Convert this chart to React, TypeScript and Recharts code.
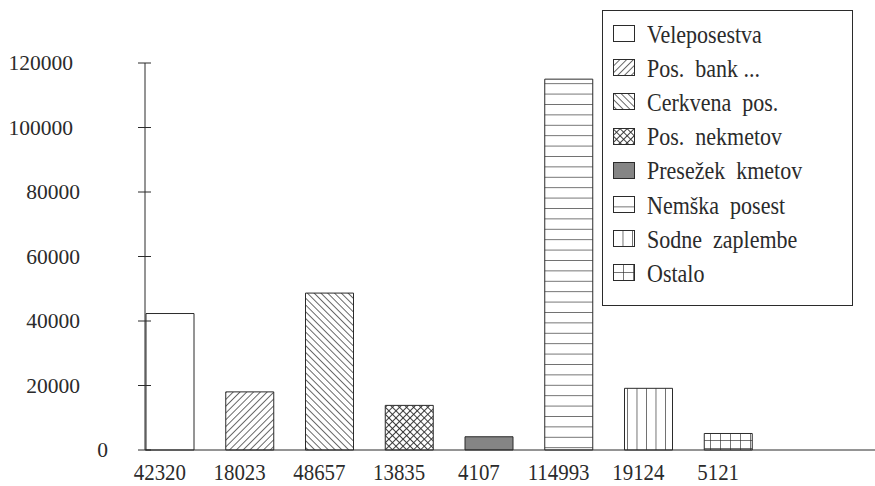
import React from 'react';
import { BarChart, Bar, Cell, XAxis, YAxis } from 'recharts';

const categories = [
  'Veleposestva',
  'Pos.  bank ...',
  'Cerkvena  pos.',
  'Pos.  nekmetov',
  'Presežek  kmetov',
  'Nemška  posest',
  'Sodne  zaplembe',
  'Ostalo',
];
const values = [42320, 18023, 48657, 13835, 4107, 114993, 19124, 5121];
const yTicks = [0, 20000, 40000, 60000, 80000, 100000, 120000];

const patternIds = ['p-blank', 'p-fwd', 'p-back', 'p-cross', 'p-grey', 'p-horiz', 'p-vert', 'p-grid'];

const data = categories.map((name, i) => ({ name, label: String(values[i]), value: values[i] }));

const INK = '#2b2b2b';
const FONT = "'Liberation Serif', 'Times New Roman', serif";

// hatch fills used by the bars and the legend swatches
const Patterns = () => (
  <defs>
    <pattern id="p-blank" width="10" height="10" patternUnits="userSpaceOnUse">
      <rect width="10" height="10" fill="#fff" />
    </pattern>
    <pattern id="p-fwd" width="4.8" height="4.8" patternUnits="userSpaceOnUse" patternTransform="rotate(45)">
      <rect width="4.8" height="4.8" fill="#fff" />
      <line x1="0" y1="0" x2="0" y2="4.8" stroke={INK} strokeWidth="1.4" />
    </pattern>
    <pattern id="p-back" width="4.8" height="4.8" patternUnits="userSpaceOnUse" patternTransform="rotate(-45)">
      <rect width="4.8" height="4.8" fill="#fff" />
      <line x1="0" y1="0" x2="0" y2="4.8" stroke={INK} strokeWidth="1.4" />
    </pattern>
    <pattern id="p-cross" width="5" height="5" patternUnits="userSpaceOnUse" patternTransform="rotate(45)">
      <rect width="5" height="5" fill="#fff" />
      <line x1="0" y1="0" x2="0" y2="5" stroke={INK} strokeWidth="1.8" />
      <line x1="0" y1="0" x2="5" y2="0" stroke={INK} strokeWidth="1.8" />
    </pattern>
    <pattern id="p-grey" width="4" height="4" patternUnits="userSpaceOnUse">
      <rect width="4" height="4" fill="#858585" />
    </pattern>
    <pattern id="p-horiz" width="10" height="10.4" patternUnits="userSpaceOnUse">
      <rect width="10" height="10.4" fill="#fff" />
      <line x1="0" y1="0" x2="10" y2="0" stroke={INK} strokeWidth="1.3" />
    </pattern>
    <pattern id="p-vert" width="9.5" height="10" patternUnits="userSpaceOnUse">
      <rect width="9.5" height="10" fill="#fff" />
      <line x1="0" y1="0" x2="0" y2="10" stroke={INK} strokeWidth="1.3" />
    </pattern>
    <pattern id="p-grid" width="10" height="8" patternUnits="userSpaceOnUse">
      <rect width="10" height="8" fill="#fff" />
      <line x1="0" y1="0" x2="0" y2="8" stroke={INK} strokeWidth="1.3" />
      <line x1="0" y1="0" x2="10" y2="0" stroke={INK} strokeWidth="1.3" />
    </pattern>
  </defs>
);

const YTick = (props: any) => {
  const { x, y, payload } = props;
  const text = String(payload.value);
  return (
    <g>
      <line x1={x - 7} x2={x + 6} y1={y} y2={y} stroke={INK} strokeWidth={1} />
      <text x={x - 30 - 7 * text.length} y={y} textAnchor="end" dominantBaseline="central" fill={INK} fontSize={21.5} fontFamily={FONT}>
        {text}
      </text>
    </g>
  );
};

const XTick = (props: any) => {
  const { x, y, payload } = props;
  return (
    <text
      transform={`translate(${x - 10},${y + 30}) scale(0.87,1)`}
      textAnchor="middle"
      fill={INK}
      fontSize={24}
      fontFamily={FONT}
    >
      {payload.value}
    </text>
  );
};

const LegendBox = () => (
  <div
    style={{
      position: 'absolute',
      left: 602,
      top: 10,
      width: 251,
      height: 296,
      border: `1px solid ${INK}`,
      background: '#fff',
      boxSizing: 'border-box',
      paddingTop: 6,
      fontFamily: FONT,
      fontSize: 25,
      color: INK,
    }}
  >
    {categories.map((name, i) => (
      <div key={name} style={{ display: 'flex', alignItems: 'center', height: 34.2, paddingLeft: 10 }}>
        <svg width={23} height={18} style={{ flex: 'none' }}>
          <rect x={0.5} y={0.5} width={21} height={16} fill={`url(#${patternIds[i]})`} stroke={INK} strokeWidth={1} />
        </svg>
        <span
          style={{
            marginLeft: 11,
            whiteSpace: 'pre',
            display: 'inline-block',
            transform: 'scaleX(0.88)',
            transformOrigin: 'left center',
            lineHeight: 1,
          }}
        >
          {name}
        </span>
      </div>
    ))}
  </div>
);

export default function App() {
  return (
    <div style={{ position: 'absolute', left: 0, top: 0, width: 875, height: 486, background: '#fff' }}>
      <BarChart width={875} height={486} data={data} margin={{ top: 63, right: 0, bottom: 0, left: 0 }}>
        <Patterns />
        <XAxis
          dataKey="label"
          height={36}
          padding={{ left: -15, right: 107 }}
          axisLine={{ stroke: INK }}
          tickLine={false}
          tickSize={0}
          tickMargin={0}
          interval={0}
          tick={<XTick />}
        />
        <YAxis
          width={145}
          domain={[0, 120000]}
          ticks={yTicks}
          axisLine={{ stroke: INK }}
          tickLine={false}
          tickSize={0}
          tickMargin={0}
          interval={0}
          tick={<YTick />}
        />
        <Bar dataKey="value" barSize={48} stroke={INK} strokeWidth={1} isAnimationActive={false}>
          {data.map((d, i) => (
            <Cell key={d.label} fill={`url(#${patternIds[i]})`} />
          ))}
        </Bar>
      </BarChart>
      <LegendBox />
    </div>
  );
}
